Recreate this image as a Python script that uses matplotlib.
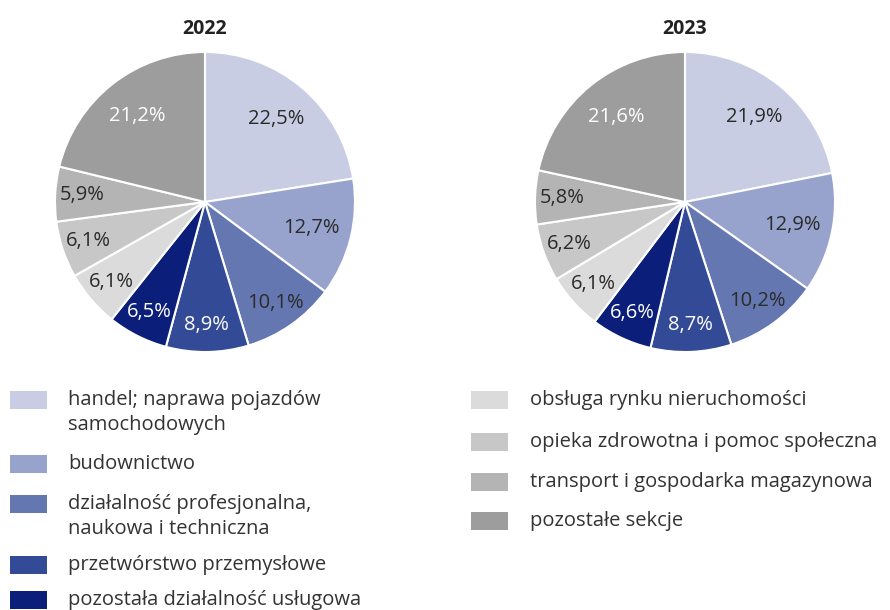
import matplotlib
matplotlib.use("Agg")
from matplotlib import pyplot as plt
from matplotlib.patches import Rectangle
import numpy as np

plt.rcParams['font.family'] = ['Open Sans', 'DejaVu Sans']

# sections of the economy (legend order = slice order, clockwise from 12 o'clock)
categories = [
    "handel; naprawa pojazdów\nsamochodowych",
    "budownictwo",
    "działalność profesjonalna,\nnaukowa i techniczna",
    "przetwórstwo przemysłowe",
    "pozostała działalność usługowa",
    "obsługa rynku nieruchomości",
    "opieka zdrowotna i pomoc społeczna",
    "transport i gospodarka magazynowa",
    "pozostałe sekcje",
]
years = ["2022", "2023"]
share_2022 = [22.5, 12.7, 10.1, 8.9, 6.5, 6.1, 6.1, 5.9, 21.2]
share_2023 = [21.9, 12.9, 10.2, 8.7, 6.6, 6.1, 6.2, 5.8, 21.6]

colors = ['#c9cde4', '#97a3cc', '#6577b0', '#334a97', '#0b1f7a',
          '#dbdbdb', '#c7c7c7', '#b4b4b4', '#9d9d9d']
label_colors = ['#2b2b2b', '#2b2b2b', '#2b2b2b', 'white', 'white',
                '#2b2b2b', '#2b2b2b', '#2b2b2b', 'white']
TXT = '#333333'
FS = 14.5


def draw_pie(ax, values, title):
    labels = [f"{v:.1f}".replace('.', ',') + '%' for v in values]
    wedges, texts = ax.pie(values, colors=colors, startangle=90, counterclock=False,
                           labels=labels, labeldistance=0.75,
                           wedgeprops=dict(edgecolor='white', linewidth=1.5),
                           textprops=dict(fontsize=FS))
    # big slices get their label a bit further in than the thin ones
    for w, t, v, c in zip(wedges, texts, values, label_colors):
        ang = np.deg2rad((w.theta1 + w.theta2) / 2)
        d = 0.73 if v > 12 else 0.82
        t.set_position((d * np.cos(ang), d * np.sin(ang)))
        t.set_ha('center')
        t.set_va('center')
        t.set_color(c)
    ax.set_xlim(-1, 1)
    ax.set_ylim(-1, 1)
    ax.set_title(title, fontsize=14, fontweight='bold', color='#222222', pad=13)


fig = plt.figure(figsize=(8.9, 6.1), dpi=100)

# pixel overlay for the legend
lay = fig.add_axes([0, 0, 1, 1])
lay.set_xlim(0, 890)
lay.set_ylim(610, 0)
lay.axis('off')
lay.patch.set_visible(False)

W, H = 890, 610
r = 150
for cx, vals, yr in [(205, share_2022, years[0]), (685, share_2023, years[1])]:
    cy = 202
    ax = fig.add_axes([(cx - r) / W, (H - cy - r) / H, 2 * r / W, 2 * r / H])
    draw_pie(ax, vals, yr)

# legend: two columns, drawn by hand so multi-line entries align on first line
left_rows = [398, 462, 502, 563, 598]
right_rows = [398, 440, 480, 519]
entries = [(10, 68, y) for y in left_rows] + [(471, 530, y) for y in right_rows]
for (bx, tx, yc), lab, col in zip(entries, categories, colors):
    lay.add_patch(Rectangle((bx, yc - 7), 37, 18, facecolor=col, edgecolor='none'))
    lay.text(tx, yc - 8, lab, fontsize=FS, color=TXT, va='top', ha='left',
             linespacing=1.35)

fig.savefig('out.png', dpi=100, facecolor='white')
